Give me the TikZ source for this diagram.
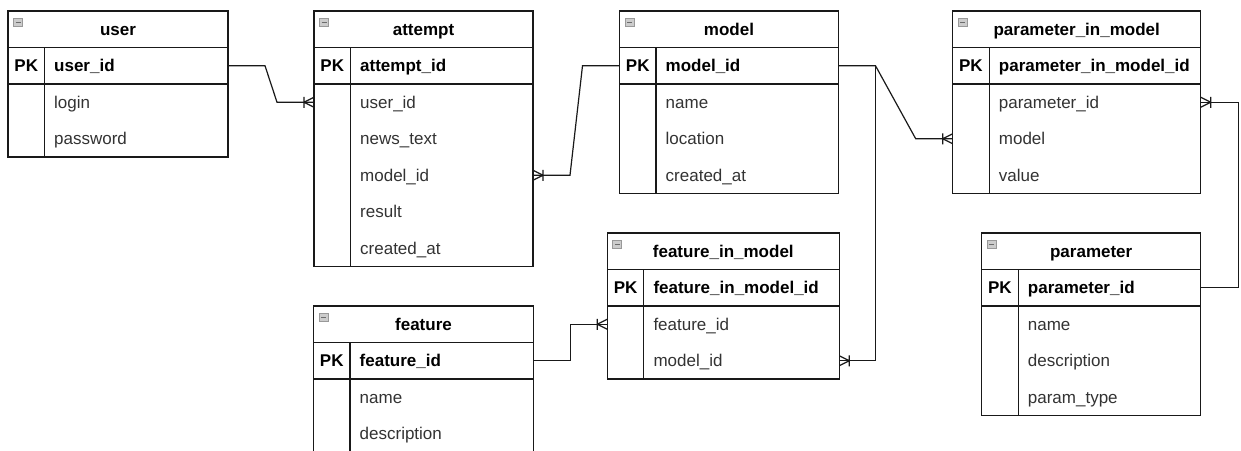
\documentclass[tikz,border=0pt]{standalone}
\usepackage{fontspec}
\setmainfont{Liberation Sans}
% underscores in field names are printed as plain characters
\catcode`\_=12

\tikzset{
  erline/.style={draw=black!90, line width=1.2pt},
  link/.style={draw=black!90, line width=1.2pt},
  cell/.style={inner sep=0pt, outer sep=0pt, minimum height=36.5pt, anchor=north west},
  txt/.style={inner sep=0pt, text height=12pt, text depth=0pt, font=\fontsize{17}{20}\selectfont},
  ttl/.style={txt, font=\fontsize{17}{20}\selectfont\bfseries, text=black},
  keytxt/.style={txt, font=\fontsize{17}{20}\selectfont\bfseries, text=black},
  fldtxt/.style={txt, text=black!80, anchor=west},
  iconbox/.style={fill=gray!40, draw=gray!80, line width=0.7pt},
  iconbar/.style={draw=gray!85!black, line width=1.3pt},
}

% #1 id, #2 left, #3 top, #4 width, #5 title, #6 key field, #7 other fields, #8 number of other fields
\newcommand\ertable[8]{%
  \node[cell, minimum width=#4pt] (#1) at (#2,#3) {};
  \node[ttl] at (#1.center) {#5};
  \draw[iconbox] ([xshift=5.5pt,yshift=-7pt]#1.north west) rectangle ++(9pt,-8.5pt);
  \draw[iconbar] ([xshift=7.5pt,yshift=-11.25pt]#1.north west) -- ++(5pt,0pt);
  \node[cell, minimum width=#4pt] (#1-#6) at (#2,{#3+36.5}) {};
  \node[keytxt] at ([xshift=18.25pt]#1-#6.west) {PK};
  \node[keytxt, anchor=west] at ([xshift=46pt]#1-#6.west) {#6};
  \foreach \f [count=\i] in {#7} {
    \node[cell, minimum width=#4pt] (#1-\f) at (#2,{#3+36.5*(\i+1)}) {};
    \node[fldtxt] at ([xshift=46pt]#1-\f.west) {\f};
  }
  \draw[erline] (#1.north west) rectangle ([yshift={-#8*36.5pt}]#1-#6.south east);
  \draw[erline] (#1.south west) -- (#1.south east);
  \draw[erline] (#1-#6.south west) -- (#1-#6.south east);
  \draw[erline] ([xshift=36.5pt]#1.south west) -- ([xshift=36.5pt,yshift={-#8*36.5pt}]#1-#6.south west);
}

% crow's foot with bar; #2 = 1 when the line arrives from the right, -1 from the left
\newcommand\crowfoot[2]{%
  \draw[link] ([xshift={#2*10pt}]#1) -- ([yshift=5pt]#1)
              ([xshift={#2*10pt}]#1) -- ([yshift=-5pt]#1)
              ([xshift={#2*10pt},yshift=5.5pt]#1) -- ([xshift={#2*10pt},yshift=-5.5pt]#1);
}

\begin{document}
\begin{tikzpicture}[x=1pt, y=-1pt]
  \useasboundingbox (0,0) rectangle (1241,450);
  \clip (0,0) rectangle (1241,450);
  \fill[white] (0,0) rectangle (1241,450);

  \ertable{usr}{8}{11}{220}{user}{user_id}{login,password}{2}
  \ertable{att}{314}{11}{219}{attempt}{attempt_id}{user_id,news_text,model_id,result,created_at}{5}
  \ertable{mdl}{619.5}{11}{219}{model}{model_id}{name,location,created_at}{3}
  \ertable{pim}{952.7}{11}{248}{parameter_in_model}{parameter_in_model_id}{parameter_id,model,value}{3}
  \ertable{fim}{607.3}{233}{232}{feature_in_model}{feature_in_model_id}{feature_id,model_id}{2}
  \ertable{par}{981.7}{233}{219}{parameter}{parameter_id}{name,description,param_type}{3}
  \ertable{fea}{313.5}{306}{220}{feature}{feature_id}{name,description}{2}

  % relationships
  \draw[link] (usr-user_id.east) -- ++(37pt,0pt) -- ([xshift=-37pt]att-user_id.west) -- (att-user_id.west);
  \crowfoot{att-user_id.west}{-1}
  \draw[link] (att-model_id.east) -- ++(37pt,0pt) -- ([xshift=-37pt]mdl-model_id.west) -- (mdl-model_id.west);
  \crowfoot{att-model_id.east}{1}
  \draw[link] (mdl-model_id.east) -- ++(37pt,0pt) -- ([xshift=-37pt]pim-model.west) -- (pim-model.west);
  \crowfoot{pim-model.west}{-1}
  \draw[link] (mdl-model_id.east) -- ++(37pt,0pt) |- (fim-model_id.east);
  \crowfoot{fim-model_id.east}{1}
  \draw[link] (fea-feature_id.east) -- ++(37pt,0pt) |- (fim-feature_id.west);
  \crowfoot{fim-feature_id.west}{-1}
  \draw[link] (par-parameter_id.east) -- ++(38pt,0pt) |- (pim-parameter_id.east);
  \crowfoot{pim-parameter_id.east}{1}
\end{tikzpicture}
\end{document}
